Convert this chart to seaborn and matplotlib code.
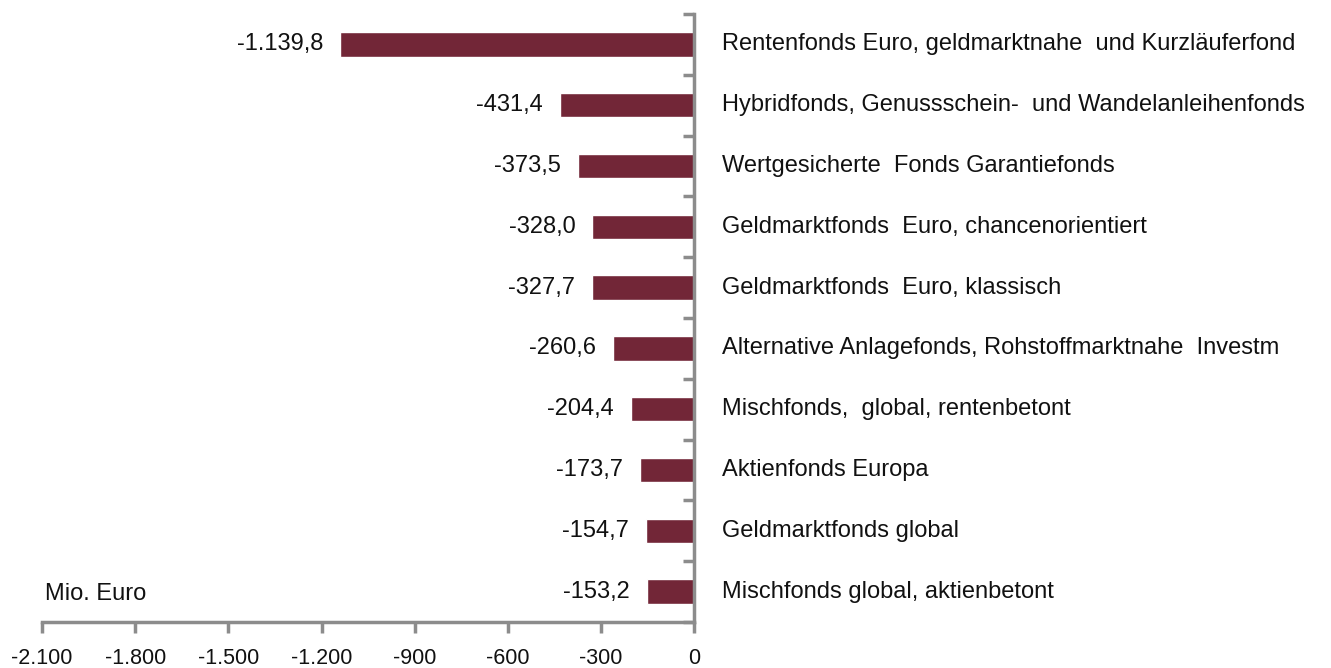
import numpy as np
import pandas as pd
import seaborn as sns
import matplotlib
matplotlib.use("Agg")
import matplotlib.pyplot as plt
from matplotlib.ticker import FixedLocator

categories = [
    "Rentenfonds Euro, geldmarktnahe  und Kurzläuferfond",
    "Hybridfonds, Genussschein-  und Wandelanleihenfonds",
    "Wertgesicherte  Fonds Garantiefonds",
    "Geldmarktfonds  Euro, chancenorientiert",
    "Geldmarktfonds  Euro, klassisch",
    "Alternative Anlagefonds, Rohstoffmarktnahe  Investm",
    "Mischfonds,  global, rentenbetont",
    "Aktienfonds Europa",
    "Geldmarktfonds global",
    "Mischfonds global, aktienbetont",
]
values = [-1139.8, -431.4, -373.5, -328.0, -327.7, -260.6, -204.4, -173.7, -154.7, -153.2]
xticks = [-2100, -1800, -1500, -1200, -900, -600, -300, 0]

df = pd.DataFrame({"fonds": categories, "wert": values})

sns.set_style("white")
plt.rcParams["font.family"] = ["Liberation Sans", "DejaVu Sans"]

fig = plt.figure(figsize=(13.31, 6.68), dpi=100)
ax = fig.add_axes([0.0316, 0.069, 0.49, 0.910])

sns.barplot(data=df, x="wert", y="fonds", orient="h", color="#722637",
            saturation=1, width=0.4, ax=ax)

ax.set_xlim(-2100, 0)
ax.set_ylim(len(categories) - 0.5, -0.5)

def de_fmt(v, dec=1):
    s = f"{abs(v):,.{dec}f}".replace(",", "X").replace(".", ",").replace("X", ".")
    return ("-" if v < 0 else "") + s

for i, v in enumerate(values):
    ax.text(v - 55, i, de_fmt(v), ha="right", va="center", fontsize=17,
            color="#111111")
    ax.text(90, i, categories[i], ha="left", va="center", fontsize=17,
            color="#111111", clip_on=False)

for sp in ["top", "left"]:
    ax.spines[sp].set_visible(False)
ax.spines["right"].set_visible(True)
for sp in ["right", "bottom"]:
    ax.spines[sp].set_color("#8c8c8c")
    ax.spines[sp].set_linewidth(2.5)

ax.set_xticks(xticks)
ax.set_xticklabels([de_fmt(t, 0) for t in xticks], fontsize=15.5, color="#111111")
ax.tick_params(axis="x", direction="out", length=8, width=2.5, color="#8c8c8c",
               pad=11, bottom=True)

ax.yaxis.set_major_locator(FixedLocator([]))
ax.yaxis.set_minor_locator(FixedLocator(np.arange(-0.5, len(categories), 1.0)))
ax.yaxis.tick_right()
ax.tick_params(axis="y", which="minor", direction="in", length=8, width=2.5,
               color="#8c8c8c", right=True, left=False)
ax.set_xlabel("")
ax.set_ylabel("")

ax.text(-2090, 9.22, "Mio. Euro", ha="left", va="bottom", fontsize=17,
        color="#111111")

fig.savefig("out.png", dpi=100)
